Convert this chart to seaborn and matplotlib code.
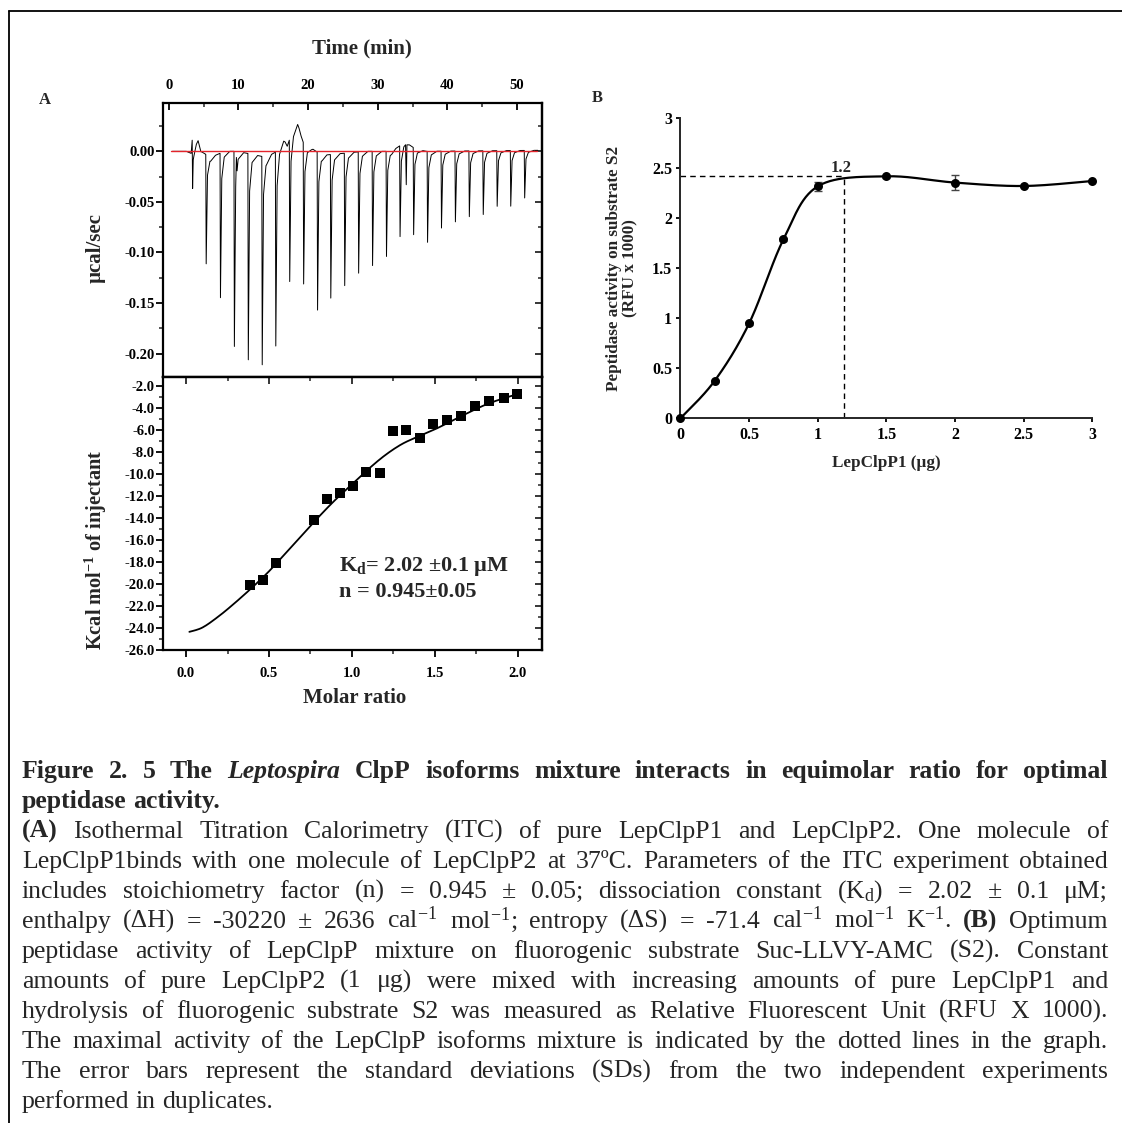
import numpy as np
import seaborn as sns
import matplotlib.pyplot as plt
import matplotlib.transforms as mtransforms
from matplotlib.lines import Line2D
from matplotlib.ticker import MultipleLocator, FormatStrFormatter, NullFormatter

sns.set_style('ticks')
plt.rcParams['font.family'] = ['Liberation Serif', 'DejaVu Serif']
plt.rcParams['mathtext.fontset'] = 'custom'
plt.rcParams['mathtext.rm'] = 'Liberation Serif'
plt.rcParams['mathtext.it'] = 'Liberation Serif:italic'
plt.rcParams['mathtext.bf'] = 'Liberation Serif:bold'
plt.rcParams['axes.unicode_minus'] = False

# ITC raw thermogram: injection times (min) and peak depths (ucal/sec)
inj_time = [3.35, 5.3, 7.35, 9.35, 11.35, 13.35, 15.3, 17.3, 19.3, 21.3, 23.2, 25.2, 27.2,
            29.2, 31.2, 33.15, 35.1, 37.1, 39.1, 41.1, 43.1, 45.1, 47.1, 49.05, 51.05]
inj_peak = [-0.053, -0.108, -0.143, -0.193, -0.204, -0.206, -0.192, -0.141, -0.139, -0.156,
            -0.142, -0.131, -0.120, -0.113, -0.104, -0.090, -0.086, -0.090, -0.076, -0.070,
            -0.065, -0.063, -0.055, -0.055, -0.047]
# baseline drift of the raw trace
base_time = [0.5, 2.5, 3.2, 3.5, 3.6, 4.2, 4.6, 6.0, 8.0, 9.6, 9.7, 9.8, 12.0, 14.0, 15.5,
             16.5, 17.0, 17.5, 18.5, 19.0, 19.5, 20.5, 22.0, 28.0, 32.0, 33.5, 34.0, 34.1,
             34.2, 35.5, 37.0, 53.0]
base_level = [0.0, 0.0, -0.002, 0.024, 0.005, 0.012, 0.0, -0.006, 0.0, 0.0, 0.021, 0.0,
              -0.003, -0.006, 0.0, 0.012, 0.005, 0.015, 0.028, 0.015, 0.005, 0.003, -0.004,
              0.0, 0.0, 0.007, 0.009, -0.031, 0.008, 0.002, 0.0, 0.001]

# binding isotherm
molar_ratio = [0.387, 0.462, 0.540, 0.770, 0.849, 0.929, 1.006, 1.086, 1.168, 1.247, 1.327,
               1.409, 1.490, 1.574, 1.656, 1.742, 1.828, 1.914, 1.996]
heat = [-20.09, -19.67, -18.06, -14.18, -12.30, -11.76, -11.09, -9.79, -9.94, -6.15, -6.00,
        -6.76, -5.48, -5.12, -4.73, -3.82, -3.36, -3.12, -2.70]
fit_ratio = [0.02, 0.1, 0.2, 0.3, 0.4, 0.5, 0.6, 0.7, 0.8, 0.9, 1.0, 1.1, 1.2, 1.3, 1.4,
             1.5, 1.6, 1.7, 1.8, 1.9, 2.0]
fit_heat = [-24.35, -23.95, -22.9, -21.65, -20.3, -18.85, -17.2, -15.55, -13.9, -12.35,
            -10.95, -9.55, -8.3, -7.3, -6.6, -5.95, -5.2, -4.45, -3.75, -3.2, -2.75]

# peptidase activity (panel B)
clpp1_ug = [0, 0.25, 0.5, 0.75, 1, 1.5, 2, 2.5, 3]
activity = [0, 0.377, 0.95, 1.79, 2.32, 2.42, 2.357, 2.323, 2.373]
activity_sd = [0, 0.01, 0.015, 0.015, 0.045, 0.012, 0.075, 0.012, 0.012]
max_ug = 1.19
max_activity = 2.42

caption = [
    ('Figure 2. 5 The Leptospira ClpP isoforms mixture interacts in equimolar ratio for optimal', 'bold', True),
    ('peptidase activity.', 'bold', False),
    ('(A) Isothermal Titration Calorimetry (ITC) of pure LepClpP1 and LepClpP2. One molecule of', 'normal', True),
    ('LepClpP1binds with one molecule of LepClpP2 at 37ºC. Parameters of the ITC experiment obtained', 'normal', True),
    ('includes stoichiometry factor (n) = 0.945 ± 0.05; dissociation constant (K$_\\mathrm{d}$) = 2.02 ± 0.1 μM;', 'normal', True),
    ('enthalpy (ΔH) = -30220 ± 2636 cal$^{-1}$ mol$^{-1}$; entropy (ΔS) = -71.4 cal$^{-1}$ mol$^{-1}$ K$^{-1}$. (B)  Optimum', 'normal', True),
    ('peptidase activity of LepClpP mixture on fluorogenic substrate Suc-LLVY-AMC (S2). Constant', 'normal', True),
    ('amounts of pure LepClpP2 (1 μg) were mixed with increasing amounts of pure LepClpP1 and', 'normal', True),
    ('hydrolysis of fluorogenic substrate S2 was measured as Relative Fluorescent Unit (RFU X 1000).', 'normal', True),
    ('The maximal activity of the LepClpP isoforms mixture is indicated by the dotted lines in the graph.', 'normal', True),
    ('The error bars represent the standard deviations (SDs) from the two independent experiments', 'normal', True),
    ('performed in duplicates.', 'normal', False),
]
bold_words = {'(A)', '(B)'}
italic_words = {'Leptospira'}


def smooth(xs, ys, n=25):
    # Excel-style smoothed line through the points
    P = np.column_stack([xs, ys]).astype(float)
    P = np.vstack([P[0], P, P[-1]])
    out = []
    s = np.linspace(0, 1, n)[:, None]
    for i in range(1, len(P) - 2):
        p0, p1, p2, p3 = P[i - 1], P[i], P[i + 1], P[i + 2]
        b1 = p1 + (p2 - p0) / 6
        b2 = p2 - (p3 - p1) / 6
        seg = (1 - s) ** 3 * p1 + 3 * (1 - s) ** 2 * s * b1 + 3 * (1 - s) * s ** 2 * b2 + s ** 3 * p2
        out.append(seg if i == 1 else seg[1:])
    return np.vstack(out)


W, H = 1122, 1123
fig = plt.figure(figsize=(W / 100, H / 100), dpi=100)
px = mtransforms.IdentityTransform()

# ---------- Panel A, raw thermogram ----------
ax1 = fig.add_axes([163.3 / W, 1 - 377 / H, 378.7 / W, 274.3 / H])
shape_dt = np.array([0, 0.06, 0.25, 0.6, 1.4])
shape_frac = np.array([0, 1, 0.18, 0.04, 0])
t = np.union1d(base_time, np.concatenate([ti + shape_dt for ti in inj_time]))
trace = np.interp(t, base_time, base_level)
for ti, pk in zip(inj_time, inj_peak):
    trace = trace + pk * np.interp(t - ti, shape_dt, shape_frac, left=0, right=0)
sns.lineplot(x=t, y=trace, ax=ax1, color='black', lw=0.7, estimator=None, sort=False)
ax1.plot([0.3, 52.9], [0, 0], color='#e3242b', lw=1.0)
ax1.set_xlim(-0.8, 53.6)
ax1.set_ylim(-0.2232, 0.0481)
ax1.xaxis.set_major_locator(MultipleLocator(10))
ax1.xaxis.set_minor_locator(MultipleLocator(5))
ax1.yaxis.set_major_locator(MultipleLocator(0.05))
ax1.yaxis.set_minor_locator(MultipleLocator(0.025))
ax1.yaxis.set_major_formatter(FormatStrFormatter('%.2f'))
ax1.tick_params(axis='x', which='both', direction='in', top=True, bottom=False,
                labeltop=True, labelbottom=False, pad=8)
ax1.tick_params(axis='y', which='both', direction='out', left=True, right=False, pad=1)
sec = ax1.secondary_yaxis('right')
sec.yaxis.set_major_locator(MultipleLocator(0.05))
sec.yaxis.set_minor_locator(MultipleLocator(0.025))
sec.yaxis.set_major_formatter(NullFormatter())
sec.tick_params(axis='y', which='both', direction='in')
ax1.set_xlabel('')
ax1.set_ylabel('')

# ---------- Panel A, binding isotherm ----------
ax2 = fig.add_axes([163.3 / W, 1 - 650 / H, 378.7 / W, 273 / H])
fit = smooth(fit_ratio, fit_heat, 10)
sns.lineplot(x=fit[:, 0], y=fit[:, 1], ax=ax2, color='black', lw=1.3, estimator=None, sort=False)
sns.scatterplot(x=molar_ratio, y=heat, ax=ax2, marker='s', s=45, color='black',
                edgecolor='black', linewidth=0, zorder=3)
ax2.set_xlim(-0.137, 2.145)
ax2.set_ylim(-26.0, -1.2)
ax2.xaxis.set_major_locator(MultipleLocator(0.5))
ax2.xaxis.set_minor_locator(MultipleLocator(0.25))
ax2.xaxis.set_major_formatter(FormatStrFormatter('%.1f'))
ax2.yaxis.set_major_locator(MultipleLocator(2))
ax2.yaxis.set_minor_locator(MultipleLocator(1))
ax2.yaxis.set_major_formatter(FormatStrFormatter('%.1f'))
ax2.tick_params(axis='x', which='both', direction='out', top=False, bottom=True, pad=7)
ax2.tick_params(axis='y', which='both', direction='out', left=True, right=False, pad=1)
secx = ax2.secondary_xaxis('top')
secx.xaxis.set_major_locator(MultipleLocator(0.5))
secx.xaxis.set_minor_locator(MultipleLocator(0.25))
secx.xaxis.set_major_formatter(NullFormatter())
secx.tick_params(axis='x', which='both', direction='in')
secy = ax2.secondary_yaxis('right')
secy.yaxis.set_major_locator(MultipleLocator(2))
secy.yaxis.set_minor_locator(MultipleLocator(1))
secy.yaxis.set_major_formatter(NullFormatter())
secy.tick_params(axis='y', which='both', direction='in')
ax2.set_xlabel('')
ax2.set_ylabel('')
ax2.text(0.92, -18.43, 'K$_\\mathbf{d}$= 2.02 ±0.1 µM', fontsize=16, fontweight='bold', va='center')
ax2.text(0.92, -20.7, 'n = 0.945±0.05', fontsize=16, fontweight='bold', va='center')

for a in (ax1, ax2, sec, secx, secy):
    for sp in a.spines.values():
        sp.set_linewidth(1.6)
        sp.set_color('black')
for a in (ax1, ax2):
    a.tick_params(which='major', length=5, width=1.3, labelsize=10.5, colors='black')
    a.tick_params(which='minor', length=3, width=1.1)
    for lab in a.get_xticklabels() + a.get_yticklabels():
        lab.set_fontweight('bold')
for a in (sec, secx, secy):
    a.tick_params(which='major', length=5, width=1.3)
    a.tick_params(which='minor', length=3, width=1.1)

fig.text(361.6 / W, 1 - 48 / H, 'Time (min)', fontsize=15, fontweight='bold', ha='center', va='center')
fig.text(44.6 / W, 1 - 100 / H, 'A', fontsize=12, fontweight='bold', ha='center', va='center')
fig.text(96 / W, 1 - 248 / H, 'µcal/sec', fontsize=15, fontweight='bold', rotation=90, ha='center', va='center')
fig.text(96 / W, 1 - 550 / H, 'Kcal mol$^{\\mathbf{-1}}$ of injectant', fontsize=14.7, fontweight='bold',
         rotation=90, ha='center', va='center')
fig.text(355 / W, 1 - 698 / H, 'Molar ratio', fontsize=15, fontweight='bold', ha='center', va='center')

# ---------- Panel B ----------
ax3 = fig.add_axes([680.5 / W, 1 - 418.3 / H, 411.9 / W, 300 / H])
curve = smooth(clpp1_ug, activity, 30)
ax3.plot([0, max_ug], [max_activity, max_activity], color='black', lw=1.0, ls=(0, (4, 3)))
ax3.plot([max_ug, max_ug], [0, max_activity], color='black', lw=1.0, ls=(0, (4, 3)))
sns.lineplot(x=curve[:, 0], y=curve[:, 1], ax=ax3, color='black', lw=1.6, estimator=None, sort=False)
ax3.errorbar(clpp1_ug, activity, yerr=activity_sd, fmt='none', ecolor='#444444', elinewidth=1,
             capsize=3, capthick=1)
sns.scatterplot(x=clpp1_ug, y=activity, ax=ax3, s=42, color='black', edgecolor='black',
                linewidth=0, zorder=4, clip_on=False)
ax3.text(1.17, 2.5, '1.2', fontsize=12, fontweight='bold', ha='center', va='center')
ax3.set_xlim(0, 3)
ax3.set_ylim(0, 3)
ax3.xaxis.set_major_locator(MultipleLocator(0.5))
ax3.yaxis.set_major_locator(MultipleLocator(0.5))
ax3.xaxis.set_major_formatter(FormatStrFormatter('%g'))
ax3.yaxis.set_major_formatter(FormatStrFormatter('%g'))
sns.despine(ax=ax3)
for sp in ax3.spines.values():
    sp.set_linewidth(1.4)
ax3.tick_params(which='major', direction='out', length=3, width=1.3, labelsize=11.5, pad=3, colors='black')
for lab in ax3.get_xticklabels() + ax3.get_yticklabels():
    lab.set_fontweight('bold')
ax3.set_xlabel('')
ax3.set_ylabel('')
fig.text(597 / W, 1 - 98 / H, 'B', fontsize=12, fontweight='bold', ha='center', va='center')
fig.text(622 / W, 1 - 268 / H, 'Peptidase activity on substrate S2\n(RFU x 1000)', fontsize=12.3,
         fontweight='bold', rotation=90, ha='center', va='center', multialignment='center',
         linespacing=1.05)
fig.text(886 / W, 1 - 463 / H, 'LepClpP1 (µg)', fontsize=12.3, fontweight='bold', ha='center', va='center')

# ---------- frame ----------
fig.add_artist(Line2D([9, W], [H - 11, H - 11], transform=px, color='black', lw=1.3))
fig.add_artist(Line2D([9, 9], [H - 11, 0], transform=px, color='black', lw=1.3))

# ---------- caption, justified ----------
renderer = fig.canvas.get_renderer()
cap_left, cap_right = 22, 1108
cap_top, cap_step, cap_size = 778, 30, 18.5
min_gap = 3.0
for i, (line, weight, justify) in enumerate(caption):
    y = H - (cap_top + i * cap_step)
    arts = []
    for w in line.split():
        wt = 'bold' if (weight == 'bold' or w in bold_words) else 'normal'
        st = 'italic' if w in italic_words else 'normal'
        arts.append(fig.text(0, y, w, transform=px, fontsize=cap_size, fontweight=wt,
                             fontstyle=st, ha='left', va='baseline'))
    widths = [a.get_window_extent(renderer).width for a in arts]
    room = cap_right - cap_left - (len(arts) - 1) * min_gap
    if justify and sum(widths) > room:
        # squeeze an over-long line
        size = cap_size * room / sum(widths)
        for a in arts:
            a.set_fontsize(size)
        widths = [a.get_window_extent(renderer).width for a in arts]
    gap = cap_size * 100 / 72 * 0.25
    if justify and len(arts) > 1:
        gap = (cap_right - cap_left - sum(widths)) / (len(arts) - 1)
    x = cap_left
    for a, w in zip(arts, widths):
        a.set_x(x)
        x += w + gap

fig.savefig('out.png', dpi=100, facecolor='white')
